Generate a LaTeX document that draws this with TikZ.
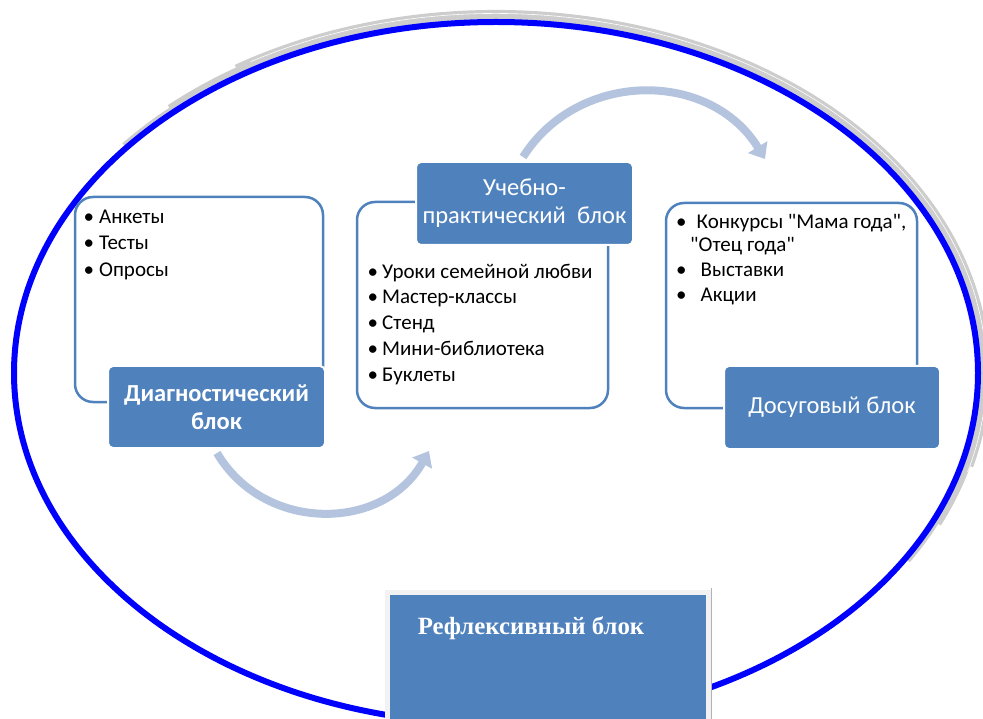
\documentclass[tikz,border=0pt]{standalone}
\usepackage{fontspec}
\setmainfont{Carlito}[Ligatures=TeXOff]
\newfontfamily\timesfont{Liberation Serif}
\usetikzlibrary{arrows.meta}
\definecolor{boxblue}{RGB}{79,129,189}
\definecolor{arrowgray}{RGB}{180,196,222}
\definecolor{rimgray}{RGB}{205,205,205}
\definecolor{edgegray}{RGB}{242,242,242}
\tikzset{>=stealth}
\tikzset{%
    titlebox/.style={fill=boxblue, draw=white, line width=2pt, rounded corners=5pt,
        text=white, align=center, inner sep=0pt, font=\fontsize{24.5}{28}\selectfont},
    framebox/.style={draw=boxblue, line width=2.5pt, rounded corners=18pt, inner sep=0pt},
    itemlist/.style={anchor=north west, align=left, inner sep=0pt},
    cycle arrow/.style={draw=arrowgray, line width=8pt,
        -{Triangle[length=14pt,width=22pt]}}
}

\begin{document}
\begin{tikzpicture}[x=1pt,y=1pt]
	\useasboundingbox (0,0) rectangle (983,-719);
	% outer ring, tapered shadow
	\foreach \w/\rx/\ry/\s/\e in {3/486.5/355.5/140/-32, 6/488/357/132/-25, 9/489.5/358.5/122/-15}
		\draw[rimgray, line width=\w pt] (496,-373) ++(\s:\rx pt and \ry pt)
			arc[start angle=\s, end angle=\e, x radius=\rx pt, y radius=\ry pt];
	\draw[white, line width=0.6pt] (496,-373) ++(120:490.5pt and 359.5pt)
		arc[start angle=120, end angle=-16, x radius=490.5pt, y radius=359.5pt];
	\draw[blue, line width=6pt] (496,-373) ellipse [x radius=482pt, y radius=351pt];
	% frames
	\node[framebox, minimum width=248pt, minimum height=205pt] (diagframe) at (199,-299.5) {};
	\node[framebox, minimum width=251pt, minimum height=206pt] (uchebframe) at (482.5,-305) {};
	\node[framebox, minimum width=251pt, minimum height=205pt] (dosugframe) at (791.5,-305.5) {};
	% lists
	\node[itemlist, font=\fontsize{21}{26.5}\selectfont] (diaglist) at (83.5,-203)
		{\rule{0pt}{20pt}•\hspace{5pt}Анкеты\\•\hspace{5pt}Тесты\\•\hspace{5pt}Опросы};
	\node[itemlist, font=\fontsize{21}{25.8}\selectfont] (uchelist) at (367.5,-258)
		{\rule{0pt}{20pt}•\hspace{4pt}Уроки семейной любви\\•\hspace{4pt}Мастер-классы\\•\hspace{4pt}Стенд\\•\hspace{4pt}Мини-библиотека\\•\hspace{4pt}Буклеты};
	\node[itemlist, font=\fontsize{21}{25}\selectfont] (dosuglist) at (676,-208)
		{\rule{0pt}{20pt}•\hspace{10pt}Конкурсы "Мама года",\\[-2pt]\hspace{14pt}"Отец года"\\•\hspace{14pt}Выставки\\•\hspace{14pt}Акции};
	% title boxes
	\node[titlebox, font=\fontsize{24.5}{28}\selectfont\bfseries, minimum width=217pt, minimum height=82pt] (diag) at (216.5,-407) {Диагностический\\блок};
	\node[titlebox, minimum width=217pt, minimum height=83pt] (ucheb) at (524.5,-203.5) {Учебно-\\практический\ \ блок};
	\node[titlebox, minimum width=216pt, minimum height=83pt] (dosug) at (832,-407.5) {Досуговый блок};
	% arrows
	\coordinate (arcAstart) at (217,-453);
	\coordinate (arcAend) at (429,-451);
	\coordinate (arcBstart) at (523,-157);
	\coordinate (arcBend) at (765,-159);
	\draw[cycle arrow] (arcAstart) to[bend right=60, looseness=1.12] (arcAend);
	\draw[cycle arrow] (arcBstart) to[bend left=58, looseness=1.1] (arcBend);
	% reflexive block
	\node[fill=boxblue, draw=edgegray, line width=5pt, minimum width=321pt, minimum height=132pt, inner sep=0pt] (refl) at (548,-658) {};
	\draw[gray!60, line width=1pt] (711,-588) -- (711,-719);
	\node[text=white, font=\timesfont\bfseries\fontsize{24.8}{28}\selectfont] (refltext) at (531,-628) {Рефлексивный блок};
\end{tikzpicture}
\end{document}
